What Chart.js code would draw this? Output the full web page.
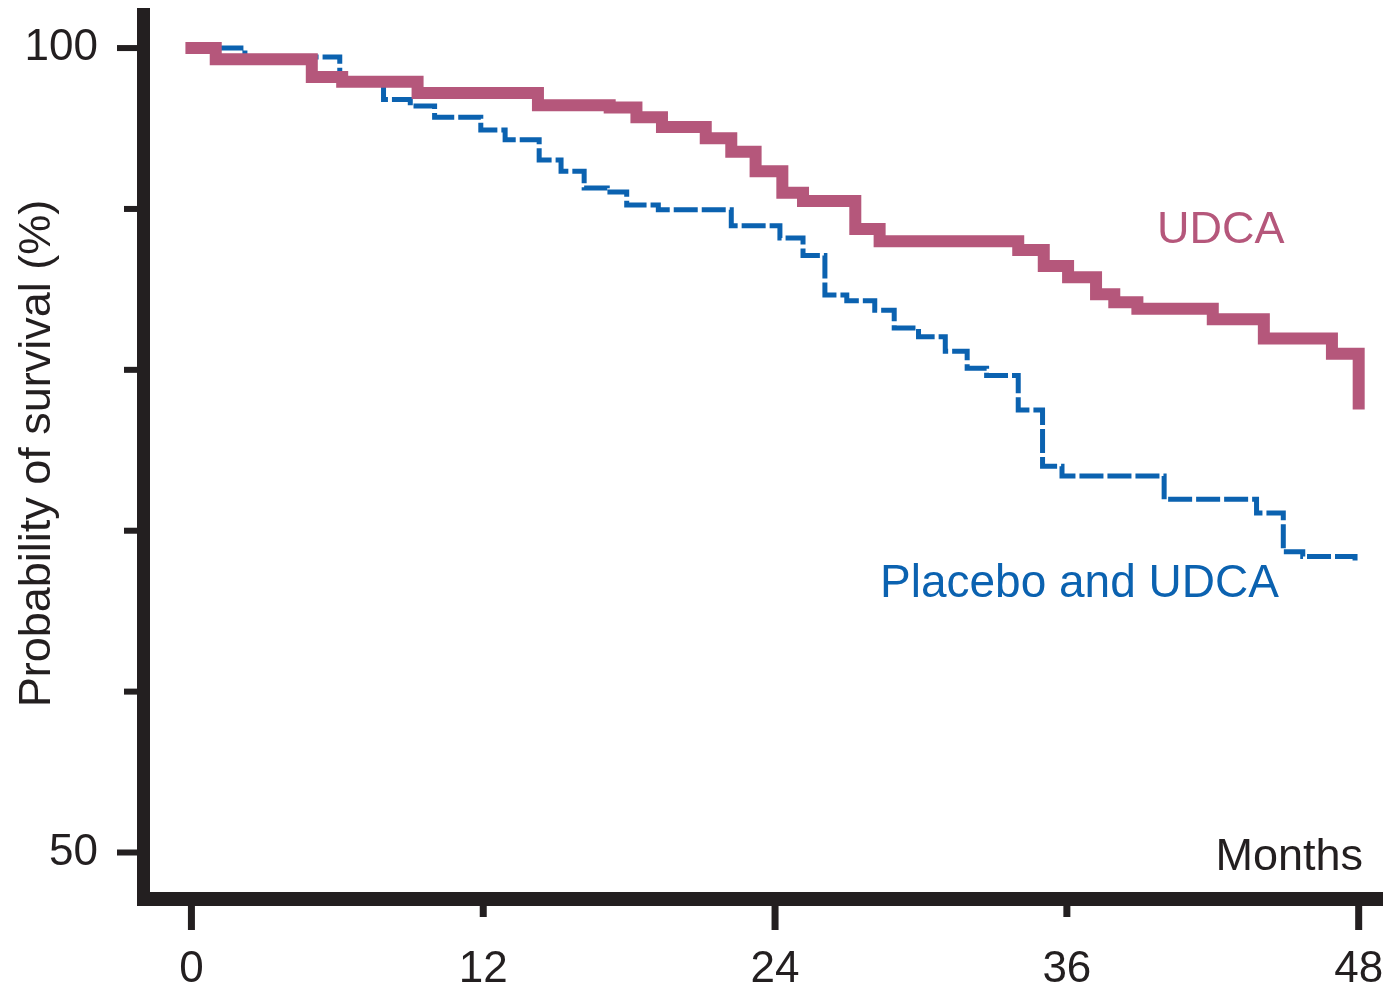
<!DOCTYPE html>
<html>
<head>
<meta charset="utf-8">
<title>Survival</title>
<script src="https://cdn.jsdelivr.net/npm/chart.js@4.4.1/dist/chart.umd.min.js"></script>
<style>
  html, body { margin: 0; padding: 0; background: #ffffff; }
  #survivalChart { display: block; }
</style>
</head>
<body>
<canvas id="survivalChart" width="1386" height="990"></canvas>
<script>
// Kaplan-Meier steps: month of each drop and survival (%) after it
var udcaMonths   = [0, 1.0, 4.95, 6.2, 9.3, 14.25, 17.2, 18.3, 19.35, 21.15, 22.2, 23.2, 24.3, 25.15, 27.3, 28.3, 34.0, 35.05, 36.05, 37.2, 37.95, 38.9, 42.0, 44.1, 46.9, 48.0];
var udcaSurvival = [100, 99.3, 98.2, 97.9, 97.2, 96.45, 96.3, 95.7, 95.1, 94.4, 93.55, 92.35, 91.0, 90.5, 88.75, 88.0, 87.45, 86.45, 85.75, 84.7, 84.2, 83.8, 83.15, 81.95, 81.0, 77.9];

var placeboMonths   = [0, 2.2, 6.1, 7.9, 9.0, 10.0, 11.9, 12.9, 14.3, 15.2, 16.15, 17.1, 17.9, 19.2, 22.2, 24.2, 25.15, 26.05, 26.95, 28.1, 28.9, 29.9, 31.0, 31.9, 32.7, 34.0, 35.0, 35.8, 40.0, 43.8, 44.9, 45.7, 47.85];
var placeboSurvival = [100, 99.45, 98.0, 96.8, 96.4, 95.7, 94.9, 94.3, 93.05, 92.35, 91.3, 91.05, 90.25, 89.95, 88.95, 88.2, 87.1, 84.65, 84.3, 83.7, 82.6, 82.05, 81.15, 80.1, 79.65, 77.5, 74.0, 73.4, 71.95, 71.1, 68.7, 68.4, 68.05];

var xTicks = [0, 12, 24, 36, 48];
var xMajor = [0, 24, 48];
var yTicks = [50, 60, 70, 80, 90, 100];
var yLabelled = [50, 100];

var ink = '#231f20';
var pink = '#b5577b';
var blue = '#0b62b0';

Chart.defaults.font.family = '"Liberation Sans", Arial, Helvetica, sans-serif';
Chart.defaults.color = ink;

function toPoints(xs, ys) {
  return xs.map(function (m, i) { return { x: m, y: ys[i] }; });
}

// thick axis lines, tick marks and the in-plot labels
var axesPlugin = {
  id: 'axes',
  afterDraw: function (chart) {
    var ctx = chart.ctx;
    var a = chart.chartArea;
    var xs = chart.scales.x;
    var ys = chart.scales.y;
    ctx.save();
    ctx.fillStyle = ink;
    ctx.fillRect(a.left - 7, a.top, 13, a.bottom - a.top + 7);
    ctx.fillRect(a.left - 7, a.bottom - 7, a.right - a.left + 7, 14);

    yTicks.forEach(function (v) {
      var py = ys.getPixelForValue(v);
      var len = yLabelled.indexOf(v) >= 0 ? 20 : 13;
      ctx.fillRect(a.left - 7 - len, py - 3, len, 6);
    });
    xTicks.forEach(function (m) {
      var px = xs.getPixelForValue(m);
      var len = xMajor.indexOf(m) >= 0 ? 24 : 11;
      ctx.fillRect(px - 3.5, a.bottom + 7, 7, len);
    });

    ctx.textBaseline = 'alphabetic';
    ctx.font = '45px "Liberation Sans", Arial, sans-serif';
    ctx.textAlign = 'right';
    ctx.fillStyle = ink;
    ctx.fillText('Months', 1363, 870);
    ctx.textAlign = 'left';
    ctx.fillStyle = pink;
    ctx.fillText('UDCA', 1157, 243);
    ctx.font = '46px "Liberation Sans", Arial, sans-serif';
    ctx.fillStyle = blue;
    ctx.fillText('Placebo and UDCA', 880, 597);
    ctx.restore();
  }
};

var ctx = document.getElementById('survivalChart');
var survivalChart = new Chart(ctx, {
  type: 'line',
  data: {
    datasets: [{
      label: 'UDCA',
      data: toPoints(udcaMonths, udcaSurvival),
      stepped: true,
      borderColor: pink,
      borderWidth: 12,
      borderCapStyle: 'square',
      borderJoinStyle: 'miter',
      pointRadius: 0,
      fill: false
    }, {
      label: 'Placebo and UDCA',
      data: toPoints(placeboMonths, placeboSurvival),
      stepped: true,
      borderColor: blue,
      borderWidth: 5,
      borderDash: [24, 4],
      borderJoinStyle: 'miter',
      pointRadius: 0,
      fill: false
    }]
  },
  options: {
    responsive: false,
    animation: false,
    events: [],
    layout: { padding: { top: 8, right: 3, left: 0, bottom: 0 } },
    plugins: {
      legend: { display: false },
      tooltip: { enabled: false }
    },
    scales: {
      x: {
        type: 'linear',
        min: -1.95,
        max: 49,
        grid: { display: false, drawTicks: false },
        border: { display: false },
        ticks: {
          autoSkip: false,
          maxRotation: 0,
          padding: 44,
          font: { size: 44 },
          color: ink
        },
        afterBuildTicks: function (scale) {
          scale.ticks = xTicks.map(function (v) { return { value: v }; });
        },
        afterFit: function (scale) {
          scale.height = 91;
          scale.paddingLeft = 0;
          scale.paddingRight = 0;
        }
      },
      y: {
        type: 'linear',
        min: 47.11,
        max: 102.49,
        grid: { display: false, drawTicks: false },
        border: { display: false },
        title: {
          display: true,
          text: 'Probability of survival (%)',
          font: { size: 45 },
          color: ink,
          padding: { top: 11, bottom: 0 }
        },
        ticks: {
          autoSkip: false,
          padding: 46,
          font: { size: 44 },
          color: ink,
          callback: function (value) {
            return yLabelled.indexOf(value) >= 0 ? String(value) : '';
          }
        },
        afterBuildTicks: function (scale) {
          scale.ticks = yTicks.map(function (v) { return { value: v }; });
        },
        afterFit: function (scale) {
          scale.width = 144;
          scale.paddingTop = 0;
          scale.paddingBottom = 0;
        }
      }
    }
  },
  plugins: [axesPlugin]
});
</script>
</body>
</html>
